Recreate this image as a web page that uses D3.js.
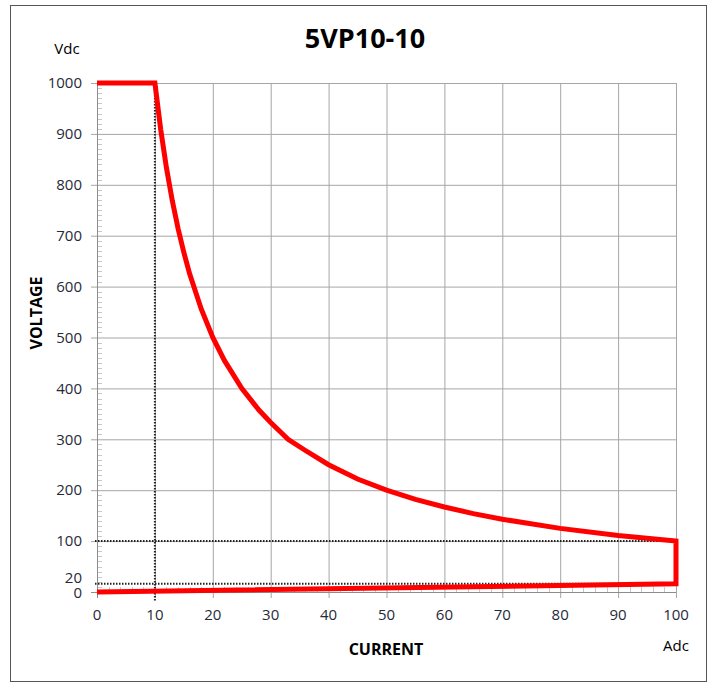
<!DOCTYPE html>
<html><head><meta charset="utf-8">
<script src="https://cdn.jsdelivr.net/npm/d3@7"></script>
<style>body{margin:0;background:#fff;} svg{display:block;font-family:"Open Sans","Noto Sans",sans-serif;}</style>
</head><body>
<script>
// ---- data ----
const title = "5VP10-10";
const xTicks = [0,10,20,30,40,50,60,70,80,90,100];
const yTicks = [0,100,200,300,400,500,600,700,800,900,1000];
const yExtraLabel = "20";
// power curve (current A, voltage V)
const curveCurrent = [0,10,11,12,13,14,15,16,18,20,22,25,28,30,33,36,40,45,50,55,60,65,70,80,90,100,100,0];
const curveVoltage = [1000,1000,909,833,769,714,667,625,556,500,455,400,357,333,300,278,250,222,200,182,167,154,143,125,111,100,16,0];
// dotted reference lines
const refVertical = [10];      // current
const refHorizontal = [100,16]; // voltage

const W=712,H=684;
const svg=d3.select("body").append("svg").attr("width",W).attr("height",H);
svg.append("rect").attr("x",10.5).attr("y",5.5).attr("width",696).attr("height",676)
  .attr("fill","#fff").attr("stroke","#555").attr("stroke-width",1);

const x=d3.scaleLinear().domain([0,100]).range([97,676]);
const y=d3.scaleLinear().domain([0,1000]).range([592,83]);

// gridlines
const g=svg.append("g");
g.selectAll(".vg").data(xTicks.filter(d=>d>0)).join("line")
  .attr("x1",d=>x(d)+0.5).attr("x2",d=>x(d)+0.5).attr("y1",y(1000)).attr("y2",y(0)+6)
  .attr("stroke","#a6a6a6").attr("stroke-width",1);
g.selectAll(".hg").data(yTicks.filter(d=>d>0)).join("line")
  .attr("x1",x(0)-6).attr("x2",x(100)).attr("y1",d=>y(d)+0.5).attr("y2",d=>y(d)+0.5)
  .attr("stroke","#a6a6a6").attr("stroke-width",1);

// minor ticks
const yMinor=d3.range(10,1000,10).filter(d=>d%100!==0);
g.selectAll(".ym").data(yMinor).join("line")
  .attr("x1",x(0)).attr("x2",x(0)+5).attr("y1",d=>Math.round(y(d))+0.5).attr("y2",d=>Math.round(y(d))+0.5)
  .attr("stroke","#c8c8c8");
const xMinor=d3.range(2,100,2).filter(d=>d%10!==0);
g.selectAll(".xm").data(xMinor).join("line")
  .attr("x1",d=>Math.round(x(d))+0.5).attr("x2",d=>Math.round(x(d))+0.5).attr("y1",y(0)).attr("y2",y(0)-5)
  .attr("stroke","#c8c8c8");

// axes lines
svg.append("line").attr("x1",x(0)+0.5).attr("x2",x(0)+0.5).attr("y1",y(1000)).attr("y2",y(0)+6).attr("stroke","#8c8c8c");
svg.append("line").attr("x1",x(0)-6).attr("x2",x(100)).attr("y1",y(0)+0.5).attr("y2",y(0)+0.5).attr("stroke","#8c8c8c");

// tick labels
svg.selectAll(".yl").data(yTicks).join("text")
  .attr("x",82).attr("y",d=>y(d)+(d===0?1:0)).attr("dy","0.35em").attr("text-anchor","end")
  .attr("font-size",15).attr("fill","#1f2a3a").text(d=>d);
svg.append("text").attr("x",82).attr("y",y(20)-4).attr("dy","0.35em").attr("text-anchor","end")
  .attr("font-size",15).attr("fill","#1f2a3a").text(yExtraLabel);
svg.selectAll(".xl").data(xTicks).join("text")
  .attr("x",d=>x(d)).attr("y",620).attr("text-anchor","middle")
  .attr("font-size",15).attr("fill","#1f2a3a").text(d=>d);

// dotted lines
svg.selectAll(".rv").data(refVertical).join("line")
  .attr("x1",d=>x(d)).attr("x2",d=>x(d)).attr("y1",y(1000)).attr("y2",y(0)+10)
  .attr("stroke","#222").attr("stroke-width",2).attr("stroke-dasharray","1.5,1.5");
svg.selectAll(".rh").data(refHorizontal).join("line")
  .attr("x1",x(0)-2).attr("x2",x(100)).attr("y1",d=>y(d)).attr("y2",d=>y(d))
  .attr("stroke","#222").attr("stroke-width",2).attr("stroke-dasharray","1.5,1.5");

// red curve
const pts=curveCurrent.map((c,i)=>[c,curveVoltage[i]]);
svg.append("path").datum(pts)
  .attr("d",d3.line().x(d=>x(d[0])).y(d=>y(d[1])))
  .attr("fill","none").attr("stroke","#ff0000").attr("stroke-width",5).attr("stroke-linejoin","miter");

// titles
svg.append("text").attr("x",365).attr("y",48).attr("text-anchor","middle")
  .attr("font-size",27).attr("font-weight","bold").attr("fill","#000").text(title);
svg.append("text").attr("x",67).attr("y",54).attr("text-anchor","middle")
  .attr("font-size",15).attr("fill","#000").text("Vdc");
svg.append("text").attr("x",676).attr("y",651).attr("text-anchor","middle")
  .attr("font-size",15).attr("fill","#000").text("Adc");
svg.append("text").attr("x",386).attr("y",655).attr("text-anchor","middle")
  .attr("font-size",16).attr("font-weight","bold").attr("fill","#000").text("CURRENT");
svg.append("text").attr("transform","translate(42,313) rotate(-90)").attr("text-anchor","middle")
  .attr("font-size",16).attr("font-weight","bold").attr("fill","#000").text("VOLTAGE");
</script>
</body></html>
